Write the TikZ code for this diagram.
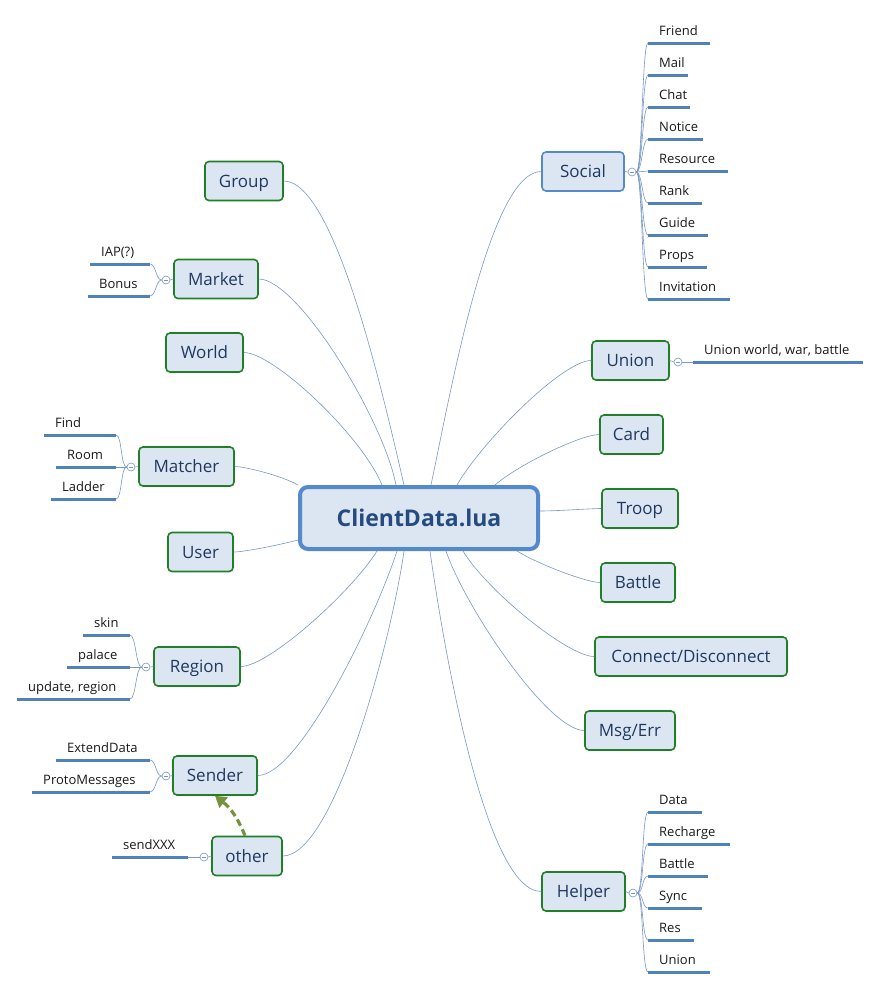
\documentclass[tikz,border=0pt]{standalone}
\usepackage{fontspec}
\setmainfont{Open Sans}
\usetikzlibrary{arrows.meta}

\definecolor{topicfill}{RGB}{220,230,242}
\definecolor{topicgreen}{RGB}{32,128,40}
\definecolor{topicblue}{RGB}{84,138,204}
\definecolor{topictext}{RGB}{32,56,96}
\definecolor{roottext}{RGB}{36,74,128}
\definecolor{branchline}{RGB}{118,152,200}
\definecolor{ulineblue}{RGB}{79,129,189}
\definecolor{leaftext}{RGB}{25,25,25}
\definecolor{linkgreen}{RGB}{118,146,60}

\tikzset{
	root/.style={draw=topicblue, line width=4pt, rounded corners=8pt, fill=topicfill, text=roottext,
		font=\fontsize{23}{26}\selectfont\bfseries, minimum width=238pt, minimum height=62pt,
		inner sep=0pt, text height=17pt, text depth=0pt},
	topic/.style={draw=topicgreen, line width=1.6pt, rounded corners=4pt, fill=topicfill, text=topictext,
		font=\fontsize{17}{20}\selectfont, minimum height=39pt, inner sep=0pt, text height=12pt, text depth=0pt},
	branch/.style={draw=branchline, line width=0.6pt, out looseness=0.4, in looseness=0.7},
	twig/.style={draw=branchline, line width=0.6pt},
	leaf/.style={anchor=south west, font=\fontsize{13}{15}\selectfont, text=leaftext,
		inner xsep=11pt, inner ysep=4pt, text height=9.5pt, text depth=3pt},
	uline/.style={draw=ulineblue, line width=3pt},
	collapse/.style={circle, draw=branchline, fill=white, line width=0.6pt, minimum size=8pt, inner sep=0pt,
		path picture={\draw[branchline, line width=0.6pt] ([xshift=1.8pt]path picture bounding box.west)
			-- ([xshift=-1.8pt]path picture bounding box.east);}},
	seealso/.style={draw=linkgreen, line width=3.2pt, dash pattern=on 7pt off 4pt,
		-{Triangle[width=13pt,length=11pt]}}
}

\begin{document}
\begin{tikzpicture}[x=1pt,y=1pt]
	\useasboundingbox (0,0) rectangle (881,-989);

	\node[root] (root) at (419,-518) {ClientData.lua};

	\node[topic, minimum width=78pt] (group) at (244,-181) {Group};
	\node[topic, minimum width=84pt] (market) at (216,-279) {Market};
	\node[topic, minimum width=77pt] (world) at (204.5,-352.5) {World};
	\node[topic, minimum width=95pt] (matcher) at (186.5,-466.5) {Matcher};
	\node[topic, minimum width=65pt] (user) at (200.5,-552) {User};
	\node[topic, minimum width=86pt] (region) at (197,-666.5) {Region};
	\node[topic, minimum width=84pt] (sender) at (215,-775.5) {Sender};
	\node[topic, minimum width=70pt] (other) at (247,-856) {other};

	\node[topic, draw=topicblue, minimum width=82pt] (social) at (583,-171.5) {Social};
	\node[topic, minimum width=77pt] (union) at (630.5,-360.5) {Union};
	\node[topic, minimum width=63pt] (card) at (631.5,-434.5) {Card};
	\node[topic, minimum width=76pt] (troop) at (640,-508.5) {Troop};
	\node[topic, minimum width=74pt] (battle) at (638,-582.5) {Battle};
	\node[topic, minimum width=192pt] (connect) at (691,-656.5) {Connect/Disconnect};
	\node[topic, minimum width=90pt] (msgerr) at (630,-730.5) {Msg/Err};
	\node[topic, minimum width=83pt] (helper) at (583.5,-891.5) {Helper};

	\draw[branch] (group.east) to[out=0, in=103] ([xshift=-15pt]root.north);
	\draw[branch] (market.east) to[out=0, in=101] ([xshift=-23pt]root.north);
	\draw[branch] (world.east) to[out=0, in=112] ([xshift=-37pt]root.north);
	\draw[branch] (matcher.east) to[out=0, in=150] (root.north west);
	\draw[branch] (user.east) to[out=0, in=195] ([yshift=-22pt]root.west);
	\draw[branch] (region.east) to[out=0, in=238] ([xshift=-42pt]root.south);
	\draw[branch] (sender.east) to[out=0, in=252] ([xshift=-22pt]root.south);
	\draw[branch] (other.east) to[out=0, in=262] ([xshift=-15pt]root.south);
	\draw[branch] (social.west) to[out=180, in=78] ([xshift=12pt]root.north);
	\draw[branch] (union.west) to[out=180, in=60] ([xshift=38pt]root.north);
	\draw[branch] (card.west) to[out=180, in=41] ([xshift=76pt]root.north);
	\draw[branch] (troop.west) to[out=180, in=0] ([yshift=7pt]root.east);
	\draw[branch] (battle.west) to[out=180, in=328] ([xshift=98pt]root.south);
	\draw[branch] (connect.west) to[out=180, in=301] ([xshift=44pt]root.south);
	\draw[branch] (msgerr.west) to[out=180, in=289] ([xshift=27pt]root.south);
	\draw[branch] (helper.west) to[out=180, in=278] ([xshift=11pt]root.south);

	\node[collapse] (market-hub) at (166,-280) {};
	\node[collapse] (matcher-hub) at (131,-467) {};
	\node[collapse] (region-hub) at (146,-667) {};
	\node[collapse] (sender-hub) at (166,-776) {};
	\node[collapse] (other-hub) at (204,-857) {};
	\node[collapse] (social-hub) at (632,-172) {};
	\node[collapse] (union-hub) at (678,-362) {};
	\node[collapse] (helper-hub) at (633,-893) {};

	\draw[twig] (market.west) -- (market-hub.east);
	\draw[twig] (matcher.west) -- (matcher-hub.east);
	\draw[twig] (region.west) -- (region-hub.east);
	\draw[twig] (sender.west) -- (sender-hub.east);
	\draw[twig] (other.west) -- (other-hub.east);
	\draw[twig] (social.east) -- (social-hub.west);
	\draw[twig] (union.east) -- (union-hub.west);
	\draw[twig] (helper.east) -- (helper-hub.west);

	\foreach \t/\l [count=\i from 0] in {Friend/62, Mail/40, Chat/42, Notice/55, Resource/80,
		Rank/54, Guide/60, Props/59, Invitation/82} {
		\node[leaf] (social-\i) at (648,-43-32*\i) {\t};
		\draw[twig] (social-hub.east) .. controls +(6,0) and +(-6,0) .. (social-\i.south west);
		\draw[uline] (social-\i.south west) -- ++(\l,0);
	}
	\foreach \t/\l [count=\i from 0] in {Data/54, Recharge/82, Battle/60, Sync/54, Res/46, Union/62} {
		\node[leaf] (helper-\i) at (648,-812-32*\i) {\t};
		\draw[twig] (helper-hub.east) .. controls +(6,0) and +(-6,0) .. (helper-\i.south west);
		\draw[uline] (helper-\i.south west) -- ++(\l,0);
	}
	\node[leaf] (union-1) at (693,-362) {Union world, war, battle};
	\draw[twig] (union-hub.east) -- (union-1.south west);
	\draw[uline] (union-1.south west) -- ++(170,0);

	\foreach \t/\x/\y [count=\i] in {IAP(?)/90/264, Bonus/88/296} {
		\node[leaf] (market-\i) at (\x,-\y) {\t};
		\coordinate (market-\i-end) at (150,-\y);
		\draw[twig] (market-hub.west) .. controls +(-6,0) and +(6,0) .. (market-\i-end);
		\draw[uline] (market-\i.south west) -- (market-\i-end);
	}
	\foreach \t/\x/\y [count=\i] in {Find/44/435, Room/56/467, Ladder/51/499} {
		\node[leaf] (matcher-\i) at (\x,-\y) {\t};
		\coordinate (matcher-\i-end) at (116,-\y);
		\draw[twig] (matcher-hub.west) .. controls +(-6,0) and +(6,0) .. (matcher-\i-end);
		\draw[uline] (matcher-\i.south west) -- (matcher-\i-end);
	}
	\foreach \t/\x/\y [count=\i] in {skin/83/635, palace/67/667, {update, region}/17/699} {
		\node[leaf] (region-\i) at (\x,-\y) {\t};
		\coordinate (region-\i-end) at (130,-\y);
		\draw[twig] (region-hub.west) .. controls +(-6,0) and +(6,0) .. (region-\i-end);
		\draw[uline] (region-\i.south west) -- (region-\i-end);
	}
	\foreach \t/\x/\y [count=\i] in {ExtendData/56/760, ProtoMessages/32/792} {
		\node[leaf] (sender-\i) at (\x,-\y) {\t};
		\coordinate (sender-\i-end) at (150,-\y);
		\draw[twig] (sender-hub.west) .. controls +(-6,0) and +(6,0) .. (sender-\i-end);
		\draw[uline] (sender-\i.south west) -- (sender-\i-end);
	}
	\node[leaf] (other-1) at (112,-857) {sendXXX};
	\coordinate (other-1-end) at (188,-857);
	\draw[twig] (other-hub.west) -- (other-1-end);
	\draw[uline] (other-1.south west) -- (other-1-end);

	\draw[seealso] ([xshift=-2pt]other.north) to[bend right=15] (sender.south);
\end{tikzpicture}
\end{document}
